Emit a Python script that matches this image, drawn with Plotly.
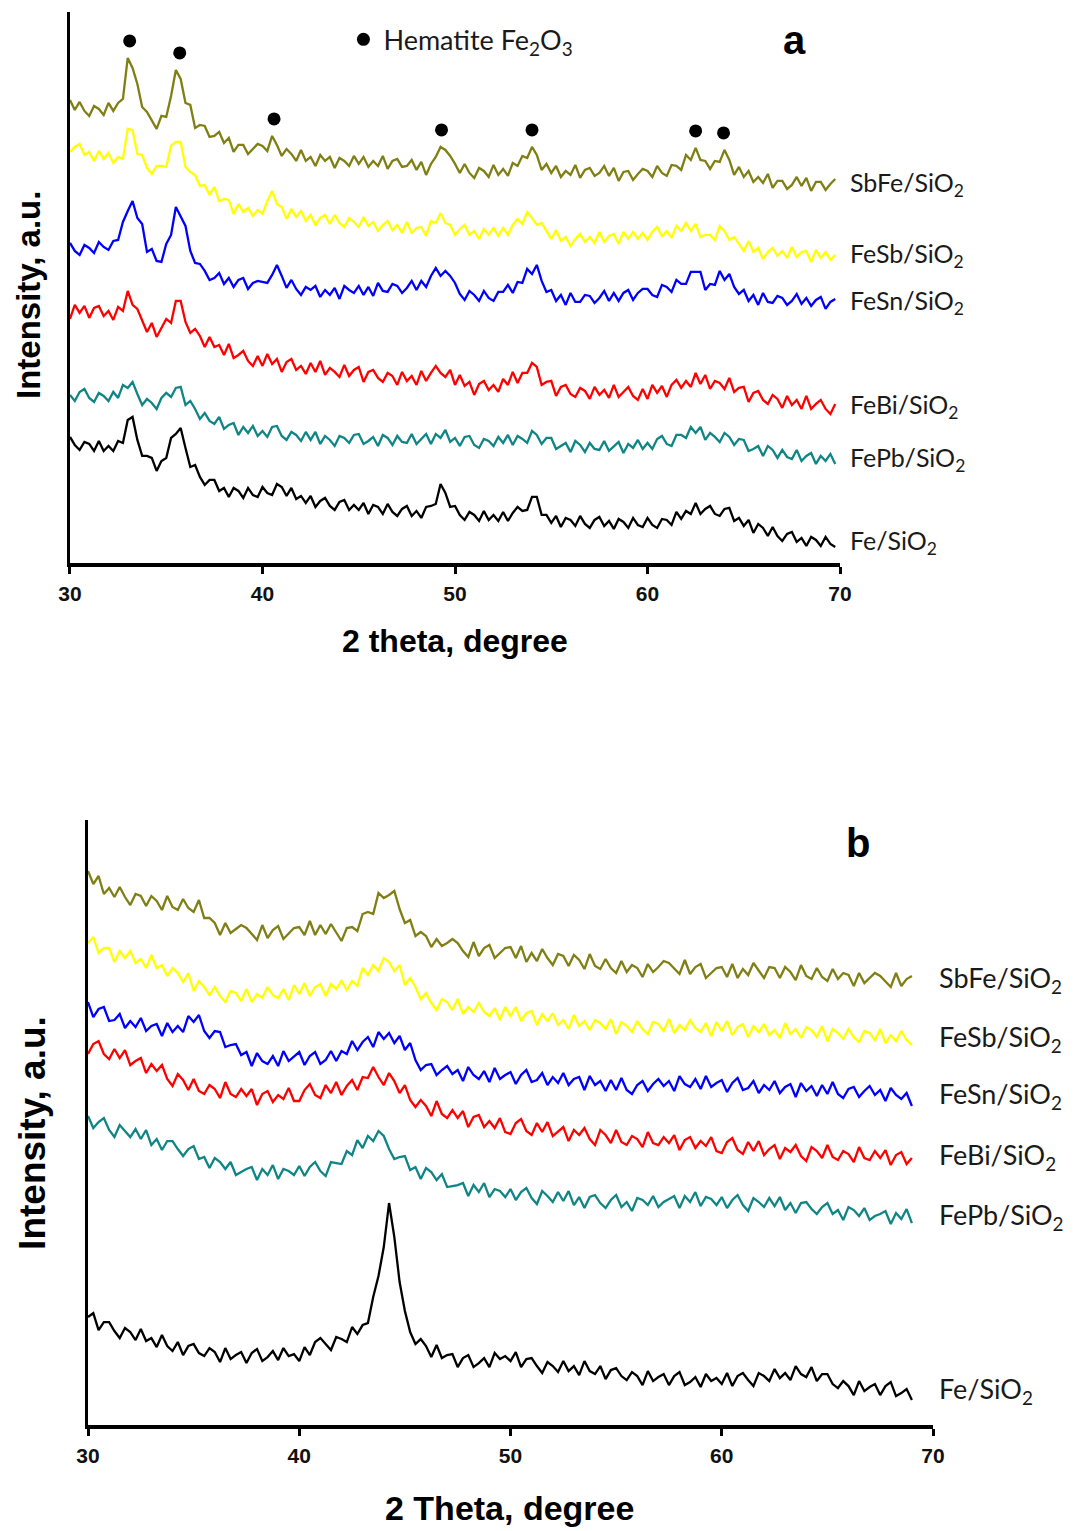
import numpy as np
import plotly.graph_objects as go

# 2-theta grids (degrees)
two_theta_a = np.round(np.arange(30.0, 69.76, 0.25), 2)
two_theta_b = np.round(np.arange(30.0, 69.01, 0.25), 2)

samples = ["SbFe", "FeSb", "FeSn", "FeBi", "FePb", "Fe"]
hematite_peaks = [33.1, 35.7, 40.6, 49.3, 54.0, 62.5, 63.95]
x_ticks = [30, 40, 50, 60, 70]

# ---- panel a: calcined samples (stacked intensities, a.u.) ----
sbfe_a = [
    463, 453, 461, 452, 447, 457, 454, 448, 460, 452,
    460, 464, 505, 495, 479, 456, 451, 443, 434, 447,
    446, 467, 493, 484, 460, 458, 435, 438, 437, 426,
    427, 431, 420, 425, 411, 418, 418, 409, 414, 419,
    417, 412, 427, 418, 407, 414, 409, 402, 413, 402,
    406, 397, 408, 402, 406, 395, 405, 402, 397, 407,
    399, 406, 396, 402, 397, 407, 394, 402, 404, 396,
    397, 403, 393, 401, 388, 399, 406, 416, 413, 407,
    399, 390, 399, 390, 385, 395, 392, 386, 398, 388,
    394, 387, 400, 397, 407, 405, 416, 408, 393, 399,
    390, 397, 386, 392, 388, 398, 385, 393, 395, 387,
    390, 397, 387, 395, 382, 391, 392, 383, 389, 394,
    392, 386, 397, 390, 387, 398, 397, 393, 408, 403,
    415, 403, 402, 394, 402, 401, 413, 403, 388, 396,
    386, 392, 381, 386, 380, 389, 375, 382, 382, 374,
    378, 386, 377, 385, 372, 381, 381, 373, 379, 384,
]
fesb_a = [
    411, 416, 419, 408, 411, 402, 412, 404, 410, 400,
    406, 404, 434, 433, 409, 408, 395, 389, 397, 397,
    396, 417, 421, 421, 396, 391, 388, 377, 378, 368,
    376, 362, 364, 363, 349, 359, 351, 355, 347, 353,
    349, 362, 372, 359, 356, 344, 354, 346, 352, 342,
    348, 338, 345, 348, 339, 348, 340, 336, 345, 341,
    336, 346, 337, 341, 332, 338, 342, 333, 338, 330,
    341, 330, 335, 336, 327, 342, 340, 350, 340, 338,
    328, 334, 338, 328, 332, 324, 334, 328, 335, 327,
    335, 328, 338, 344, 339, 351, 345, 338, 340, 332,
    324, 333, 322, 326, 317, 324, 329, 321, 326, 320,
    331, 321, 327, 329, 319, 331, 324, 331, 324, 330,
    323, 331, 336, 327, 332, 325, 337, 332, 340, 332,
    339, 326, 328, 328, 323, 337, 332, 323, 326, 319,
    312, 322, 311, 315, 304, 311, 315, 307, 312, 305,
    316, 306, 311, 312, 301, 313, 305, 311, 303, 308,
]
fesn_a = [
    320, 312, 308, 318, 315, 310, 321, 316, 313, 322,
    323, 341, 352, 362, 345, 339, 311, 314, 302, 301,
    319, 328, 356, 346, 337, 312, 300, 299, 292, 283,
    285, 290, 279, 285, 276, 283, 285, 274, 280, 282,
    281, 280, 288, 298, 287, 275, 283, 274, 268, 276,
    273, 277, 266, 273, 268, 275, 264, 277, 273, 270,
    277, 268, 276, 267, 280, 272, 271, 279, 277, 270,
    275, 282, 273, 282, 276, 287, 295, 287, 292, 287,
    280, 269, 263, 272, 268, 262, 272, 265, 262, 271,
    271, 278, 270, 281, 280, 294, 289, 298, 282, 271,
    273, 262, 268, 258, 270, 261, 261, 268, 267, 260,
    265, 272, 262, 270, 262, 270, 273, 263, 270, 274,
    274, 268, 266, 278, 276, 271, 283, 279, 279, 291,
    291, 291, 273, 279, 278, 292, 283, 289, 276, 269,
    273, 262, 268, 258, 270, 261, 260, 267, 265, 258,
    262, 269, 259, 265, 257, 263, 266, 254, 261, 264,
]
febi_a = [
    244, 258, 250, 257, 245, 255, 257, 247, 252, 243,
    256, 252, 272, 258, 254, 243, 231, 240, 226, 235,
    244, 240, 262, 262, 241, 230, 234, 227, 216, 226,
    216, 218, 208, 219, 205, 208, 212, 202, 197, 207,
    197, 209, 199, 204, 191, 201, 204, 193, 197, 189,
    200, 191, 202, 188, 195, 191, 186, 198, 187, 193,
    196, 181, 191, 193, 185, 181, 190, 187, 178, 191,
    182, 187, 178, 192, 182, 190, 197, 190, 186, 193,
    178, 188, 177, 181, 168, 179, 182, 173, 178, 171,
    184, 178, 191, 180, 190, 190, 200, 196, 178, 181,
    182, 167, 176, 178, 169, 166, 175, 172, 164, 176,
    168, 173, 165, 178, 166, 171, 176, 167, 163, 174,
    164, 178, 170, 177, 166, 178, 183, 175, 182, 176,
    190, 179, 188, 174, 182, 180, 174, 185, 171, 175,
    176, 161, 170, 172, 163, 159, 168, 164, 155, 167,
    158, 163, 154, 167, 154, 159, 163, 154, 149, 159,
]
fepb_a = [
    168, 162, 171, 174, 165, 161, 170, 167, 162, 171,
    165, 178, 175, 181, 169, 158, 164, 160, 154, 165,
    170, 166, 175, 176, 158, 162, 154, 144, 150, 142,
    139, 146, 134, 138, 140, 128, 136, 130, 137, 127,
    132, 126, 136, 137, 127, 123, 131, 128, 122, 131,
    123, 131, 119, 127, 123, 117, 127, 125, 120, 128,
    129, 119, 122, 126, 117, 128, 125, 118, 127, 121,
    120, 129, 119, 124, 129, 119, 129, 125, 133, 121,
    125, 117, 126, 127, 118, 115, 124, 122, 117, 126,
    120, 128, 118, 127, 124, 120, 132, 128, 119, 125,
    125, 114, 117, 120, 111, 122, 118, 111, 120, 114,
    113, 122, 112, 117, 121, 110, 119, 115, 123, 114,
    120, 114, 124, 127, 119, 117, 128, 128, 125, 136,
    130, 136, 123, 130, 126, 121, 130, 126, 118, 124,
    123, 112, 114, 117, 107, 117, 113, 105, 113, 106,
    104, 113, 102, 107, 110, 99, 107, 102, 109, 99,
]
fe_a = [
    126, 118, 113, 121, 119, 112, 122, 112, 117, 112,
    122, 120, 143, 146, 123, 107, 107, 105, 92, 102,
    105, 125, 129, 135, 115, 96, 98, 86, 78, 83,
    83, 72, 75, 66, 75, 72, 65, 75, 68, 66,
    76, 70, 68, 79, 76, 67, 75, 64, 67, 60,
    67, 56, 62, 65, 57, 53, 61, 63, 53, 58,
    53, 60, 49, 58, 56, 49, 59, 51, 47, 54,
    57, 47, 52, 45, 56, 57, 59, 79, 70, 56,
    57, 48, 43, 51, 48, 42, 52, 43, 48, 42,
    51, 42, 50, 56, 52, 53, 66, 66, 48, 48,
    40, 47, 36, 45, 43, 37, 47, 39, 35, 43,
    46, 37, 42, 34, 44, 41, 35, 45, 38, 36,
    45, 38, 35, 44, 43, 38, 51, 44, 52, 49,
    60, 49, 54, 57, 49, 47, 54, 55, 42, 45,
    37, 43, 30, 39, 35, 27, 36, 27, 22, 29,
    31, 21, 25, 17, 26, 23, 17, 26, 19, 16,
]

# ---- panel b: reduced samples (stacked intensities, a.u.) ----
sbfe_b = [
    554, 541, 549, 531, 537, 528, 538, 528, 520, 531,
    529, 519, 529, 524, 515, 529, 518, 515, 526, 517,
    513, 525, 507, 507, 502, 490, 502, 492, 496, 500,
    497, 491, 485, 500, 487, 495, 499, 486, 491, 497,
    498, 490, 504, 490, 500, 491, 501, 492, 484, 497,
    498, 494, 511, 513, 511, 532, 527, 530, 534, 516,
    502, 505, 489, 493, 489, 478, 486, 479, 482, 486,
    482, 474, 468, 483, 469, 477, 480, 467, 472, 477,
    478, 467, 479, 463, 472, 464, 476, 467, 460, 471,
    469, 459, 470, 465, 456, 471, 459, 456, 466, 457,
    452, 464, 453, 460, 457, 448, 461, 453, 458, 464,
    462, 456, 451, 465, 451, 458, 461, 447, 452, 457,
    458, 448, 461, 447, 456, 450, 462, 454, 447, 458,
    457, 447, 458, 453, 445, 460, 449, 446, 457, 448,
    444, 456, 446, 452, 450, 439, 452, 442, 447, 452,
    449, 443, 438, 452, 439, 446, 449,
]
fesb_b = [
    482, 488, 472, 477, 477, 463, 474, 467, 474, 462,
    466, 457, 470, 457, 460, 449, 457, 452, 443, 452,
    434, 444, 438, 430, 438, 429, 423, 434, 432, 424,
    436, 423, 431, 427, 438, 430, 427, 436, 425, 440,
    431, 442, 429, 438, 441, 429, 441, 436, 444, 435,
    444, 439, 457, 450, 460, 454, 467, 463, 454, 460,
    440, 447, 438, 426, 432, 422, 415, 426, 423, 415,
    426, 411, 418, 413, 422, 413, 409, 417, 405, 418,
    409, 418, 404, 412, 414, 400, 411, 404, 412, 400,
    405, 396, 410, 399, 404, 395, 405, 402, 396, 406,
    391, 403, 399, 393, 404, 396, 391, 403, 401, 394,
    406, 392, 400, 395, 405, 397, 393, 402, 389, 403,
    394, 404, 390, 398, 401, 388, 399, 393, 401, 390,
    395, 387, 402, 391, 396, 387, 398, 395, 388, 399,
    384, 396, 392, 386, 396, 388, 383, 394, 392, 385,
    396, 382, 390, 384, 394, 385, 380,
]
fesn_b = [
    423, 408, 416, 418, 404, 405, 411, 397, 404, 398,
    407, 394, 399, 401, 389, 402, 393, 399, 393, 409,
    403, 410, 394, 387, 394, 393, 378, 380, 381, 370,
    373, 359, 372, 364, 361, 369, 359, 374, 364, 369,
    373, 360, 369, 373, 361, 365, 374, 364, 374, 371,
    384, 375, 383, 388, 378, 393, 386, 392, 382, 389,
    375, 382, 365, 355, 360, 361, 350, 355, 359, 351,
    355, 344, 358, 350, 346, 354, 343, 357, 346, 350,
    353, 341, 350, 355, 343, 345, 352, 340, 348, 342,
    352, 340, 346, 348, 335, 349, 340, 344, 334, 345,
    335, 347, 335, 331, 340, 344, 334, 341, 346, 339,
    344, 334, 349, 341, 338, 346, 336, 349, 338, 342,
    345, 333, 342, 347, 335, 337, 344, 332, 340, 335,
    344, 332, 338, 341, 328, 342, 334, 339, 329, 340,
    331, 343, 331, 327, 336, 338, 328, 334, 339, 330,
    335, 324, 337, 330, 326, 332, 319,
]
febi_b = [
    371, 381, 384, 371, 366, 376, 367, 375, 360, 364,
    367, 352, 361, 354, 360, 346, 339, 351, 345, 335,
    346, 334, 331, 340, 336, 327, 343, 331, 328, 336,
    329, 336, 320, 331, 334, 323, 330, 326, 337, 324,
    324, 335, 341, 330, 327, 340, 332, 343, 330, 339,
    345, 335, 348, 347, 358, 348, 340, 352, 344, 332,
    340, 325, 318, 325, 319, 309, 324, 311, 307, 315,
    307, 314, 298, 308, 310, 298, 304, 297, 307, 293,
    291, 302, 306, 294, 290, 302, 293, 303, 289, 294,
    298, 284, 295, 290, 297, 286, 280, 295, 290, 282,
    295, 283, 280, 289, 286, 278, 293, 282, 280, 288,
    282, 290, 275, 285, 288, 277, 284, 279, 288, 274,
    272, 283, 287, 275, 271, 283, 274, 284, 270, 276,
    280, 266, 277, 273, 280, 269, 264, 278, 274, 267,
    280, 268, 265, 274, 271, 263, 278, 267, 265, 274,
    267, 275, 260, 270, 273, 261, 267,
]
fepb_b = [
    309, 297, 303, 307, 295, 288, 300, 294, 288, 296,
    286, 295, 280, 286, 275, 284, 284, 276, 269, 276,
    279, 266, 268, 257, 267, 263, 256, 263, 250, 253,
    256, 258, 245, 256, 250, 260, 246, 256, 254, 250,
    259, 249, 258, 263, 254, 249, 263, 262, 261, 274,
    270, 285, 277, 289, 284, 294, 289, 276, 266, 268,
    269, 255, 258, 246, 257, 253, 245, 251, 238, 239,
    240, 242, 229, 240, 233, 242, 228, 236, 234, 228,
    236, 225, 233, 237, 227, 221, 234, 229, 223, 233,
    224, 234, 220, 228, 217, 228, 230, 222, 217, 225,
    230, 218, 223, 214, 227, 225, 220, 229, 218, 223,
    226, 229, 217, 229, 223, 233, 219, 228, 226, 220,
    228, 217, 225, 230, 220, 214, 227, 223, 218, 227,
    219, 228, 215, 222, 212, 222, 223, 216, 211, 218,
    222, 211, 215, 205, 218, 215, 209, 217, 205, 209,
    211, 214, 201, 212, 206, 216, 202,
]
fe_b = [
    108, 112, 95, 103, 103, 94, 87, 97, 93, 85,
    96, 84, 87, 78, 90, 79, 74, 83, 70, 79,
    81, 72, 69, 77, 73, 63, 77, 66, 70, 73,
    62, 72, 76, 64, 68, 74, 65, 77, 69, 71,
    64, 78, 70, 83, 87, 81, 75, 88, 86, 83,
    98, 91, 100, 102, 128, 149, 178, 222, 188, 143,
    114, 93, 81, 86, 79, 68, 80, 67, 70, 71,
    58, 67, 70, 58, 62, 67, 58, 72, 66, 69,
    64, 73, 58, 66, 67, 59, 52, 63, 59, 53,
    64, 54, 59, 50, 64, 54, 51, 59, 46, 55,
    57, 49, 45, 53, 49, 40, 54, 44, 48, 51,
    40, 49, 53, 40, 43, 48, 38, 51, 44, 47,
    41, 52, 39, 49, 52, 45, 39, 52, 49, 44,
    56, 47, 52, 45, 59, 51, 48, 58, 44, 51,
    51, 41, 37, 44, 39, 30, 44, 34, 38, 41,
    30, 39, 43, 29, 32, 36, 25,
]

panel_a = [sbfe_a, fesb_a, fesn_a, febi_a, fepb_a, fe_a]
panel_b = [sbfe_b, fesb_b, fesn_b, febi_b, fepb_b, fe_b]

# colours / fonts
COLORS = ["#7f7f14", "#ffff00", "#0000ff", "#ff0000", "#0f8585", "#000000"]
LABEL_FONT = "Lato, 'Open Sans', sans-serif"
BOLD_FONT = "'Liberation Sans', Arial, sans-serif"

# axis placement (paper fractions)
XDOM_A, YDOM_A, YMAX_A = [0.0648, 0.7778], [0.6323, 0.9922], 551
XDOM_B, YDOM_B, YMAX_B = [0.0815, 0.8639], [0.0692, 0.4644], 605


def to_paper(x, y, xdom, ydom, ymax):
    px = xdom[0] + (x - 30) / 40 * (xdom[1] - xdom[0])
    py = ydom[0] + y / ymax * (ydom[1] - ydom[0])
    return px, py


fig = go.Figure()

for name, ys, ys_b, col in zip(samples, panel_a, panel_b, COLORS):
    fig.add_trace(go.Scatter(
        x=two_theta_a[:len(ys)], y=ys, mode="lines",
        line=dict(color=col, width=2.3), showlegend=False,
        xaxis="x", yaxis="y", hoverinfo="skip",
    ))
    fig.add_trace(go.Scatter(
        x=two_theta_b[:len(ys_b)], y=ys_b, mode="lines",
        line=dict(color=col, width=2.3), showlegend=False,
        xaxis="x2", yaxis="y2", hoverinfo="skip",
    ))
    label = f"{name}/SiO<sub>2</sub>"
    lx, ly = to_paper(70.42, float(np.mean(ys[-8:])), XDOM_A, YDOM_A, YMAX_A)
    fig.add_annotation(
        x=lx, y=ly, xref="paper", yref="paper",
        text=label, showarrow=False, xanchor="left", yanchor="middle",
        font=dict(family=LABEL_FONT, size=25, color="#1a1a1a"),
    )
    lx, ly = to_paper(70.2, float(np.mean(ys_b[-8:])), XDOM_B, YDOM_B, YMAX_B)
    fig.add_annotation(
        x=lx, y=ly, xref="paper", yref="paper",
        text=label, showarrow=False, xanchor="left", yanchor="middle",
        font=dict(family=LABEL_FONT, size=27, color="#1a1a1a"),
    )

# hematite markers above the top pattern
dot_y = []
for p in hematite_peaks:
    near = [v for t, v in zip(two_theta_a, sbfe_a) if abs(t - p) <= 0.3]
    dot_y.append(max(near) + 17)
fig.add_trace(go.Scatter(
    x=hematite_peaks, y=dot_y, mode="markers",
    marker=dict(color="black", size=13, symbol="circle"),
    name="Hematite Fe<sub>2</sub>O<sub>3</sub>", showlegend=True,
    xaxis="x", yaxis="y", hoverinfo="skip",
))

axis_common = dict(
    range=[30, 70], tickvals=x_ticks, showgrid=False, zeroline=False,
    showline=True, linecolor="black", linewidth=3.5,
    ticks="outside", ticklen=7, tickwidth=2.5, tickcolor="black",
    tickfont=dict(family=BOLD_FONT, size=21, color="#111111", weight="bold"),
    ticklabelstandoff=2,
)
yaxis_common = dict(
    showgrid=False, zeroline=False, showticklabels=False, ticks="",
    showline=True, linecolor="black", linewidth=2.5,
)

fig.update_layout(
    width=1080, height=1531,
    margin=dict(l=0, r=0, t=0, b=0, autoexpand=False),
    paper_bgcolor="white", plot_bgcolor="white",
    xaxis=dict(domain=XDOM_A, anchor="y", **axis_common),
    yaxis=dict(domain=YDOM_A, range=[0, YMAX_A], anchor="x", **yaxis_common),
    xaxis2=dict(domain=XDOM_B, anchor="y2", **axis_common),
    yaxis2=dict(domain=YDOM_B, range=[0, YMAX_B], anchor="x2", **yaxis_common),
    legend=dict(
        x=0.318, y=0.974, xanchor="left", yanchor="middle",
        bgcolor="rgba(0,0,0,0)", borderwidth=0,
        font=dict(family=LABEL_FONT, size=27, color="#1a1a1a"),
    ),
    font=dict(family=BOLD_FONT),
)

# axis titles and panel letters
texts = [
    ("Intensity, a.u.", 0.0259, 0.8073, 33, -90),
    ("2 theta, degree", 0.4213, 0.5813, 32, 0),
    ("Intensity, a.u.", 0.0305, 0.2600, 37, -90),
    ("2 Theta, degree", 0.4722, 0.0150, 34, 0),
    ("a", 0.7361, 0.9739, 40, 0),
    ("b", 0.7944, 0.4494, 40, 0),
]
for txt, px, py, size, ang in texts:
    fig.add_annotation(
        x=px, y=py, xref="paper", yref="paper", text=f"<b>{txt}</b>",
        showarrow=False, textangle=ang, xanchor="center", yanchor="middle",
        font=dict(family=BOLD_FONT, size=size, color="black"),
    )

# the page's default body margin would shift the 1080x1531 figure
fig.write_html(
    "out.html",
    config={"displayModeBar": False},
    post_script="document.body.style.margin = '0';",
)
